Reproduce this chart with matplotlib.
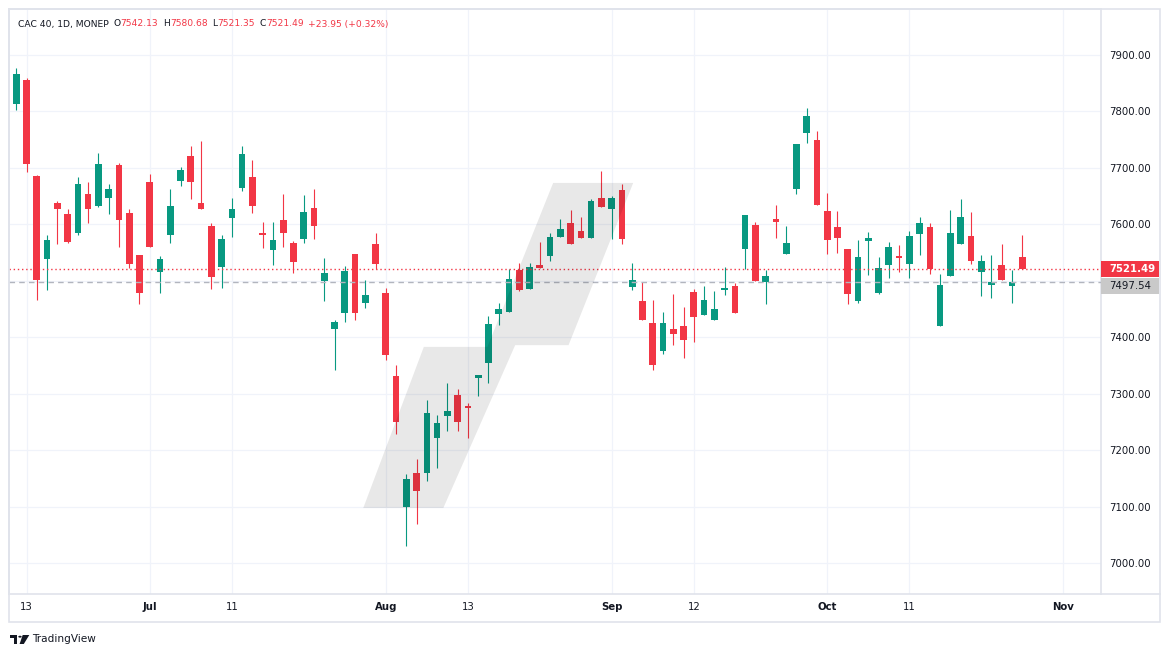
import matplotlib
matplotlib.use('Agg')
import matplotlib.pyplot as plt
import numpy as np
from matplotlib.patches import Polygon, Rectangle, Circle
from matplotlib.lines import Line2D

# CAC 40 daily candles, 12 Jun 2024 -> 28 Oct 2024 (one entry per trading day)
opens = [7813, 7855, 7685, 7538, 7637, 7618, 7585, 7653, 7633, 7647,
         7705, 7620, 7545, 7674, 7516, 7580, 7677, 7720, 7637, 7597,
         7525, 7611, 7664, 7683, 7584, 7555, 7607, 7567, 7573, 7629,
         7500, 7415, 7443, 7547, 7461, 7565, 7478, 7331, 7099, 7160,
         7160, 7222, 7260, 7298, 7278, 7328, 7354, 7441, 7445, 7519,
         7486, 7528, 7544, 7578, 7602, 7588, 7576, 7646, 7627, 7660,
         7489, 7464, 7425, 7376, 7415, 7420, 7480, 7440, 7431, 7483,
         7491, 7556, 7598, 7498, 7610, 7548, 7663, 7762, 7749, 7623,
         7595, 7556, 7465, 7571, 7479, 7527, 7544, 7530, 7583, 7595,
         7420, 7509, 7565, 7579, 7516, 7493, 7528, 7490, 7542.13]
highs = [7876, 7858, 7687, 7581, 7641, 7627, 7683, 7674, 7726, 7671,
         7708, 7627, 7545, 7689, 7544, 7662, 7701, 7738, 7747, 7602,
         7580, 7646, 7738, 7713, 7604, 7604, 7653, 7570, 7652, 7662,
         7540, 7431, 7526, 7547, 7501, 7584, 7487, 7351, 7158, 7185,
         7289, 7262, 7319, 7308, 7284, 7333, 7438, 7461, 7521, 7531,
         7531, 7569, 7584, 7609, 7625, 7613, 7644, 7694, 7650, 7671,
         7531, 7498, 7466, 7445, 7476, 7454, 7485, 7491, 7482, 7525,
         7496, 7616, 7604, 7519, 7634, 7597, 7742, 7805, 7765, 7655,
         7623, 7556, 7572, 7586, 7542, 7568, 7563, 7588, 7613, 7602,
         7512, 7625, 7644, 7621, 7545, 7545, 7565, 7519, 7580.68]
lows = [7802, 7693, 7466, 7483, 7565, 7567, 7580, 7602, 7631, 7618,
        7560, 7523, 7458, 7560, 7479, 7567, 7668, 7645, 7627, 7486,
        7488, 7578, 7659, 7620, 7557, 7527, 7560, 7514, 7567, 7574,
        7465, 7343, 7427, 7431, 7452, 7520, 7359, 7229, 7031, 7070,
        7146, 7169, 7235, 7235, 7222, 7296, 7319, 7422, 7445, 7482,
        7486, 7523, 7535, 7578, 7565, 7576, 7576, 7631, 7574, 7565,
        7484, 7431, 7343, 7371, 7387, 7364, 7392, 7440, 7431, 7475,
        7443, 7521, 7499, 7458, 7576, 7548, 7654, 7744, 7634, 7548,
        7549, 7459, 7461, 7511, 7477, 7505, 7516, 7505, 7546, 7512,
        7420, 7509, 7565, 7530, 7473, 7470, 7502, 7461, 7521.35]
closes = [7865, 7707, 7501, 7572, 7627, 7569, 7671, 7627, 7706, 7662,
          7608, 7530, 7479, 7560, 7538, 7633, 7696, 7675, 7627, 7507,
          7574, 7627, 7724, 7633, 7580, 7572, 7585, 7534, 7621, 7597,
          7514, 7427, 7517, 7443, 7475, 7530, 7369, 7251, 7149, 7129,
          7266, 7248, 7270, 7251, 7275, 7333, 7423, 7450, 7503, 7484,
          7524, 7523, 7577, 7591, 7565, 7576, 7641, 7631, 7646, 7574,
          7501, 7431, 7351, 7425, 7406, 7396, 7435, 7466, 7450, 7487,
          7443, 7616, 7499, 7509, 7603, 7567, 7742, 7791, 7634, 7572,
          7576, 7477, 7542, 7575, 7522, 7560, 7540, 7579, 7602, 7521,
          7492, 7584, 7613, 7535, 7535, 7498, 7502, 7497.54, 7521.49]

# time axis: bar index of each label
tick_pos = [1, 13, 21, 36, 44, 58, 66, 79, 87, 102]
tick_labels = ['13', 'Jul', '11', 'Aug', '13', 'Sep', '12', 'Oct', '11', 'Nov']
month_labels = ['Jul', 'Aug', 'Sep', 'Oct', 'Nov']

price_ticks = [7000, 7100, 7200, 7300, 7400, 7500, 7600, 7700, 7800, 7900]

last_close = 7521.49
prev_close = 7497.54
header_values = [('O', '7542.13'), ('H', '7580.68'), ('L', '7521.35'), ('C', '7521.49')]
change_text = '+23.95 (+0.32%)'

# highlighter stroke drawn over the August rally (bar index, price)
highlight_path = [(33.8, 7098), (39.7, 7383), (45.9, 7383), (52.3, 7673),
                  (60.1, 7673), (53.8, 7386), (48.6, 7386), (41.6, 7098)]

GREEN = '#089981'
RED = '#f23645'
TEXT = '#131722'
FRAME = '#e0e3eb'
GRID = '#f0f3fa'

W, H = 1171, 657


def fx(x):
    return x / W


def fy(y):
    return 1 - y / H


fig = plt.figure(figsize=(W / 100, H / 100), dpi=100)
fig.patch.set_facecolor('white')

ax = fig.add_axes([fx(9), fy(594), (1101 - 9) / W, (594 - 9.3) / H])
ax.set_facecolor('white')

o = np.array(opens)
h = np.array(highs)
l = np.array(lows)
c = np.array(closes)
idx = np.arange(len(o))
colors = np.where(c >= o, GREEN, RED)

# wicks and bodies
ax.vlines(idx, l, h, colors=colors, lw=0.8, zorder=2)
body_low = np.minimum(o, c)
body_h = np.maximum(np.abs(c - o), 1.8)
ax.bar(idx, body_h, bottom=body_low, width=0.65, color=colors, linewidth=0, zorder=3)

# price lines
ax.axhline(last_close, color=RED, lw=1, linestyle=(0, (1, 2)), zorder=3.5)
ax.axhline(prev_close, color='#b2b5be', lw=1, linestyle=(0, (4, 3)), zorder=3.5)

# highlighter drawing
ax.add_patch(Polygon(highlight_path, closed=True, facecolor='black', alpha=0.09,
                     edgecolor='none', zorder=4))

ax.set_xlim(-0.71, 105.67)
ax.set_ylim(6946, 7980)

ax.set_xticks(tick_pos)
ax.set_xticklabels(tick_labels)
for lab in ax.get_xticklabels():
    if lab.get_text() in month_labels:
        lab.set_fontweight('bold')

ax.yaxis.tick_right()
ax.set_yticks(price_ticks)
ax.set_yticklabels(['' if p == 7500 else f'{p:.2f}' for p in price_ticks])

ax.tick_params(axis='both', length=0, labelsize=7.3, colors=TEXT)
ax.tick_params(axis='y', pad=5.8)
ax.tick_params(axis='x', pad=5.5)
ax.grid(True, color=GRID, lw=0.9, zorder=0)
ax.set_axisbelow(True)

for sp in ax.spines.values():
    sp.set_color(FRAME)
    sp.set_linewidth(1.2)

# outer frame around chart + price scale
fig.add_artist(Rectangle((fx(9), fy(621.7)), (1160 - 9) / W, (621.7 - 9.3) / H,
                         transform=fig.transFigure, facecolor='none',
                         edgecolor=FRAME, lw=1.2))
fig.add_artist(Line2D([fx(1101), fx(1160)], [fy(594), fy(594)],
                      transform=fig.transFigure, color=FRAME, lw=1.2))

# last / previous close labels on the price scale
fig.add_artist(Rectangle((fx(1101), fy(276.9)), 58 / W, 16.2 / H,
                         transform=fig.transFigure, facecolor=RED, edgecolor='none'))
fig.text(fx(1109), fy(268.8), f'{last_close:.2f}', color='white', fontsize=7.3,
         fontweight='bold', va='center', ha='left')
fig.add_artist(Rectangle((fx(1101), fy(294)), 58 / W, 16.4 / H,
                         transform=fig.transFigure, facecolor='#c9c9c9', edgecolor='none'))
fig.text(fx(1109), fy(285.8), f'{prev_close:.2f}', color=TEXT, fontsize=7.3,
         va='center', ha='left')

# header line, each piece placed right after the previous one
hdr_size = 6.6
prev = fig.text(fx(18), fy(24), 'CAC 40, 1D, MONEP', color=TEXT, fontsize=hdr_size,
                va='center')
for letter, val in header_values:
    prev = ax.annotate(letter, xy=(1, 0.5), xycoords=prev, xytext=(3.2, 0),
                       textcoords='offset points', va='center', ha='left',
                       color=TEXT, fontsize=hdr_size)
    prev = ax.annotate(val, xy=(1, 0.5), xycoords=prev, xytext=(0.3, 0),
                       textcoords='offset points', va='center', ha='left',
                       color=RED, fontsize=hdr_size)
ax.annotate(change_text, xy=(1, 0.5), xycoords=prev, xytext=(3.2, 0),
            textcoords='offset points', va='center', ha='left',
            color=RED, fontsize=hdr_size)

# tradingview mark
logo_t = [(10, 635), (17.3, 635), (17.3, 644), (14, 644), (14, 638.3), (10, 638.3)]
logo_v = [(22.7, 635), (29.3, 635), (23.8, 644), (19.6, 644)]
for pts in (logo_t, logo_v):
    fig.add_artist(Polygon([(fx(a), fy(b)) for a, b in pts], closed=True,
                           transform=fig.transFigure, facecolor=TEXT, edgecolor='none'))
fig.add_artist(Circle((fx(20), fy(636.7)), 1.7 / W, transform=fig.transFigure,
                      facecolor=TEXT, edgecolor='none'))
fig.text(fx(32.5), fy(639.5), 'TradingView', color=TEXT, fontsize=7.6, va='center')

fig.savefig('out.png', dpi=100, facecolor='white')
